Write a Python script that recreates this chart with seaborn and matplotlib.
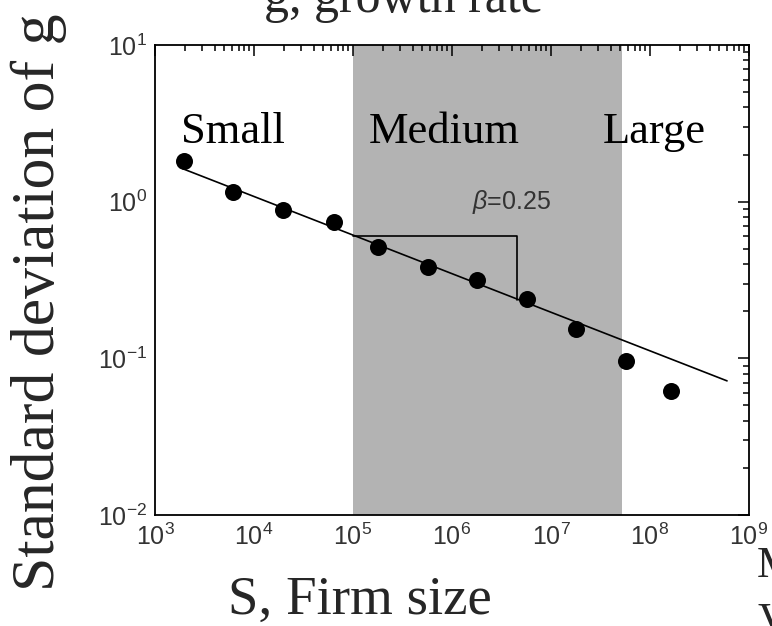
import numpy as np
import pandas as pd
import matplotlib
matplotlib.use("Agg")
import matplotlib.pyplot as plt
from matplotlib.ticker import LogLocator, NullFormatter
import seaborn as sns

# Firm size bins and the standard deviation of growth rate in each bin
firm_size = [1.98e3, 6.1e3, 1.95e4, 6.47e4, 1.79e5, 5.77e5, 1.77e6, 5.69e6, 1.79e7, 5.73e7, 1.62e8]
sigma_g = [1.83, 1.16, 0.885, 0.738, 0.514, 0.385, 0.316, 0.238, 0.153, 0.096, 0.062]

# Power-law fit sigma ~ S^(-beta)
fit_size = [1.92e3, 6.0e8]
fit_sigma = [1.62, 0.0718]
beta_label = r"$\mathit{\beta}$=0.25"

# Slope triangle
tri_size = [1.0e5, 4.5e6, 4.5e6]
tri_sigma = [0.607, 0.607, 0.235]

# Medium-size band and category labels
medium_band = (1.0e5, 5.2e7)
size_classes = ["Small", "Medium", "Large"]
class_pos = [6.1e3, 8.3e5, 1.1e8]

sns.set_theme(style="white")
plt.rcParams["font.family"] = ["Liberation Sans", "DejaVu Sans"]
plt.rcParams["mathtext.fontset"] = "custom"
plt.rcParams["mathtext.rm"] = "Liberation Sans"
plt.rcParams["mathtext.it"] = "Liberation Sans:italic"
plt.rcParams["mathtext.default"] = "regular"

fig = plt.figure(figsize=(7.72, 6.26), dpi=100)
ax = fig.add_axes([155 / 772, 1 - 515 / 626, 594 / 772, 470 / 626])
ax.set_xscale("log")
ax.set_yscale("log")
ax.set_xlim(1e3, 1e9)
ax.set_ylim(1e-2, 1e1)

ax.axvspan(*medium_band, color="#b3b3b3", lw=0, zorder=0)

fit_df = pd.DataFrame({"S": fit_size, "sigma": fit_sigma})
sns.lineplot(data=fit_df, x="S", y="sigma", ax=ax, color="black", lw=1.2, zorder=2)
tri_df = pd.DataFrame({"S": tri_size, "sigma": tri_sigma})
sns.lineplot(data=tri_df, x="S", y="sigma", sort=False, ax=ax, color="black", lw=1.2,
             zorder=2, estimator=None)

pts = pd.DataFrame({"S": firm_size, "sigma": sigma_g})
sns.scatterplot(data=pts, x="S", y="sigma", ax=ax, color="black", s=150,
                edgecolor="black", linewidth=0, zorder=3)

ax.text(3.95e6, 1.0, beta_label, fontsize=18, color="#333333", ha="center", va="center")

serif = ["Liberation Serif", "DejaVu Serif"]
for name, xpos in zip(size_classes, class_pos):
    ax.text(xpos, 2.37, name, fontsize=32, family=serif, ha="center", va="baseline",
            color="black")

ax.set_xlabel("")
ax.set_ylabel("")

# ticks
ax.xaxis.set_major_locator(LogLocator(base=10, numticks=20))
ax.xaxis.set_minor_locator(LogLocator(base=10, subs=np.arange(2, 10), numticks=100))
ax.yaxis.set_major_locator(LogLocator(base=10, numticks=20))
ax.yaxis.set_minor_locator(LogLocator(base=10, subs=np.arange(2, 10), numticks=100))
ax.xaxis.set_minor_formatter(NullFormatter())
ax.yaxis.set_minor_formatter(NullFormatter())
ax.tick_params(which="both", direction="in", top=True, right=True, colors="black",
               labelcolor="#333333", labelsize=18, width=1.1)
ax.tick_params(which="major", length=8, pad=6)
ax.tick_params(which="minor", length=4)
for sp in ax.spines.values():
    sp.set_color("black")
    sp.set_linewidth(1.3)

# figure-level titles in serif type
fig.text(404 / 772, 1 - 12 / 626, "g, growth rate", fontsize=36, family=serif,
         ha="center", va="baseline")
fig.text(67 / 772, 1 - 302 / 626, "Standard deviation of g", fontsize=44.5, family=serif,
         rotation=90, ha="right", va="center")
fig.text(360 / 772, 1 - 614 / 626, "S, Firm size", fontsize=39.5, family=serif,
         ha="center", va="baseline")
fig.text(757 / 772, 1 - 577 / 626, "M", fontsize=32, family=serif, ha="left", va="baseline")
fig.text(757 / 772, 1 - 633 / 626, "V", fontsize=32, family=serif, ha="left", va="baseline")

fig.savefig("out.png", dpi=100, facecolor="white")
